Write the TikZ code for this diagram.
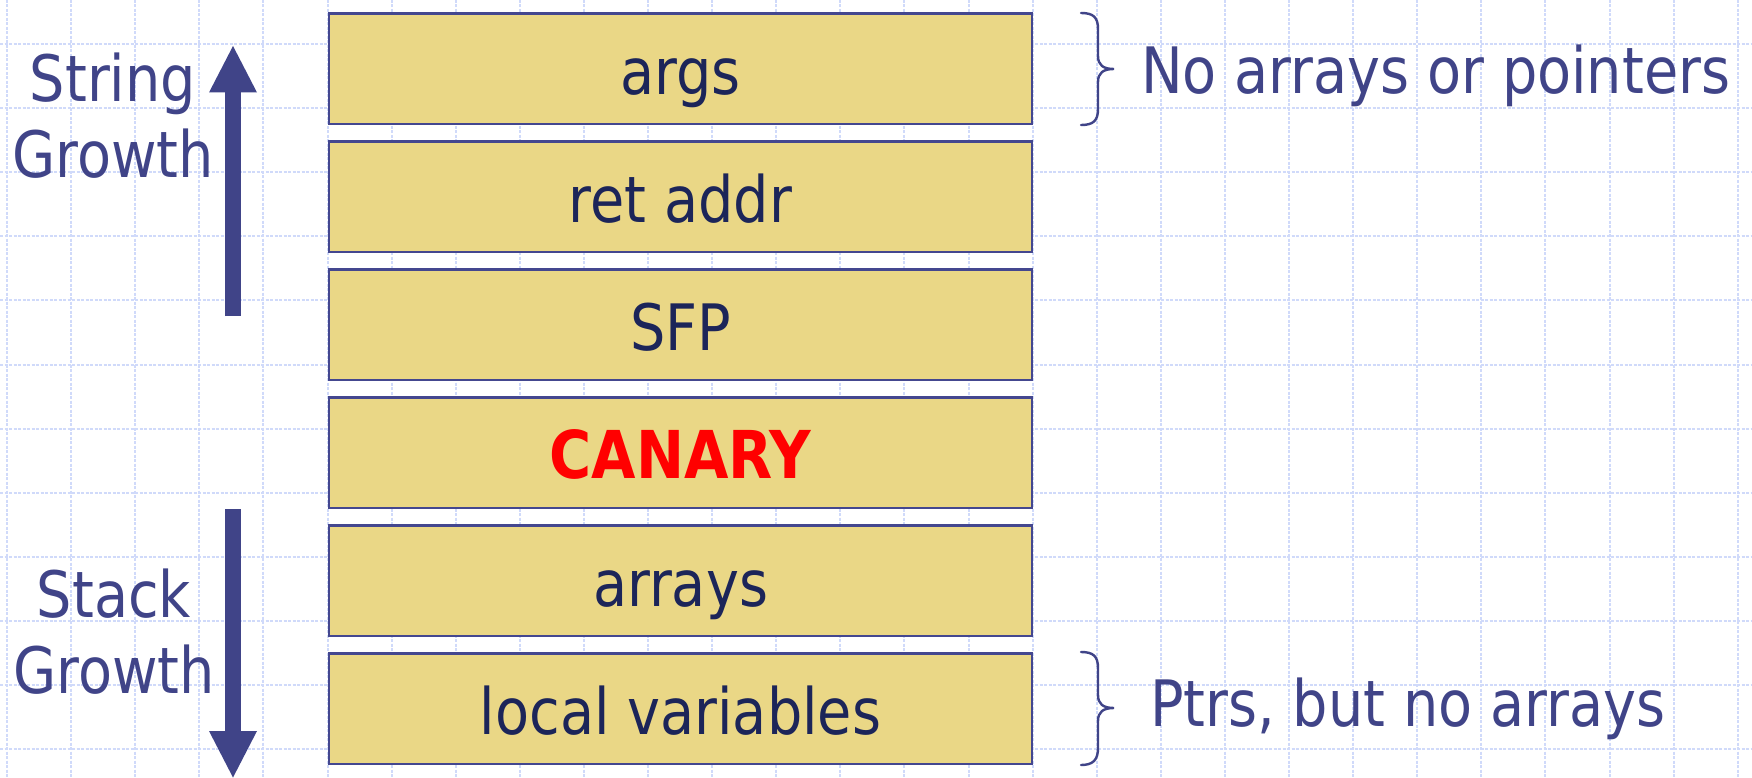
\documentclass[tikz,border=0pt]{standalone}
\usepackage{fontspec}
\setmainfont[FakeStretch=0.87]{DejaVu Sans}
\usetikzlibrary{arrows.meta}

\definecolor{gridblue}{RGB}{208,218,250}
\definecolor{slotfill}{RGB}{234,215,134}
\definecolor{slotedge}{RGB}{68,71,143}
\definecolor{labelblue}{RGB}{64,68,136}
\definecolor{slottext}{RGB}{28,37,89}
\definecolor{canaryred}{RGB}{255,0,0}

\begin{document}
\begin{tikzpicture}[x=1pt,y=-1pt,
  gridline/.style={gridblue, line width=2pt, dash pattern=on 3pt off 1.5pt},
  slot/.style={draw=slotedge, fill=slotfill, line width=2.5pt,
    minimum width=703pt, minimum height=110.2pt, inner sep=0pt, outer sep=0pt,
    text height=51pt, text depth=0pt, text=slottext,
    font=\fontsize{64}{76}\selectfont},
  sidelabel/.style={text=labelblue, font=\fontsize{64}{76.3}\selectfont,
    inner sep=0pt, align=center},
  growth/.style={draw=labelblue, line width=15.2pt,
    -{Triangle[width=48pt,length=46.5pt,line width=0pt]}},
  bracket/.style={draw=labelblue, line width=2.4pt, line cap=round}]

\useasboundingbox (0,0) rectangle (1752,778);
\fill[white] (0,0) rectangle (1752,778);

% background grid
\foreach \i in {0,...,27}
  \draw[gridline] ({7+64.1*\i},0) -- ({7+64.1*\i},778);
\foreach \j in {0,...,11}
  \draw[gridline] (0,{44+64.1*\j}) -- (1752,{44+64.1*\j});

% stack frame slots, top to bottom
\node[slot] (args)   at (680.5, 68.7) {args};
\node[slot] (ret)    at (680.5,196.7) {ret addr};
\node[slot] (sfp)    at (680.5,324.7) {SFP};
\node[slot, text=canaryred, font=\fontsize{66}{76}\selectfont\bfseries]
                     (canary) at (680.5,452.7) {CANARY};
\node[slot] (arrays) at (680.5,580.7) {arrays};
\node[slot] (locals) at (680.5,708.7) {local variables};

% growth directions
\coordinate (strTail) at (233,316);
\coordinate (strTip)  at (233,46);
\coordinate (stkTail) at (233,509);
\coordinate (stkTip)  at (233,777.5);
\draw[growth] (strTail) -- (strTip);
\draw[growth] (stkTail) -- (stkTip);

% two-line labels, placed by the baseline of their last line
\node[sidelabel, anchor=base] (strlbl) at (113,178) {String\\Growth};
\node[sidelabel, anchor=base] (stklbl) at (114,693.5) {Stack\\Growth};

% braces with notes
\draw[bracket] (1081,13) .. controls (1093,13) and (1098,17) .. (1098,29)
  -- (1098,56) .. controls (1098,65) and (1103,69) .. (1114,69)
  .. controls (1103,69) and (1098,73) .. (1098,82)
  -- (1098,109) .. controls (1098,121) and (1093,125) .. (1081,125);
\draw[bracket] (1081,652) .. controls (1093,652) and (1098,656) .. (1098,668)
  -- (1098,695) .. controls (1098,704) and (1103,708) .. (1114,708)
  .. controls (1103,708) and (1098,712) .. (1098,721)
  -- (1098,748) .. controls (1098,760) and (1093,765) .. (1081,765);

\node[sidelabel, anchor=base west] (topnote) at (1141,94) {No arrays or pointers};
\node[sidelabel, anchor=base west] (botnote) at (1150,726.7) {Ptrs, but no arrays};
\end{tikzpicture}
\end{document}
